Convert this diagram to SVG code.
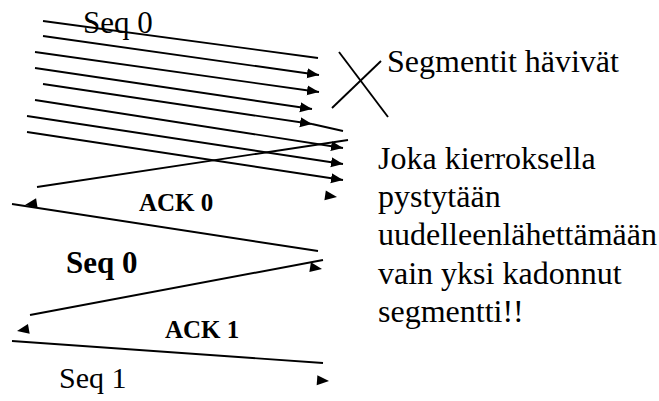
<svg xmlns="http://www.w3.org/2000/svg" width="659" height="401" viewBox="0 0 659 401">
  <style>
    .ln { stroke: #000; stroke-width: 1.9; fill: none; }
    .txt { font-family: "Liberation Serif", "Times New Roman", serif; fill: #000; }
    .big { font-size: 32px; }
    .b24 { font-size: 25px; font-weight: bold; }
    .b30 { font-size: 31px; font-weight: bold; }
    .ah { fill: #000; }
  </style>
  <defs>
    <marker id="arr" markerUnits="userSpaceOnUse" markerWidth="13" markerHeight="11" refX="12" refY="5" orient="auto">
      <path d="M0,0 L12,5 L0,10 Z" fill="#000"/>
    </marker>
    <path id="head" d="M0,0 L-12,-5 L-12,5 Z"/>
  </defs>
  <rect width="659" height="401" fill="#fff"/>

  <g id="connectors">
    <line class="ln" x1="43" y1="21" x2="318" y2="58"/>
    <line class="ln" x1="43" y1="36" x2="319" y2="75" marker-end="url(#arr)"/>
    <line class="ln" x1="35" y1="52" x2="319" y2="92" marker-end="url(#arr)"/>
    <line class="ln" x1="35" y1="68" x2="312" y2="109" marker-end="url(#arr)"/>
    <line class="ln" x1="43" y1="84" x2="312" y2="124" marker-end="url(#arr)"/>
    <line class="ln" x1="312" y1="124" x2="343" y2="131"/>
    <line class="ln" x1="35" y1="100" x2="343" y2="148" marker-end="url(#arr)"/>
    <line class="ln" x1="27" y1="116" x2="343" y2="164" marker-end="url(#arr)"/>
    <line class="ln" x1="27" y1="132" x2="343" y2="180" marker-end="url(#arr)"/>
    <use href="#head" class="ah" transform="translate(337,197) rotate(8)"/>

    <line class="ln" x1="348" y1="140" x2="37" y2="187"/>
    <use href="#head" class="ah" transform="translate(25,205) rotate(171)"/>

    <line class="ln" x1="12" y1="204" x2="318" y2="251"/>
    <use href="#head" class="ah" transform="translate(322,269) rotate(9)"/>

    <line class="ln" x1="323" y1="260" x2="30" y2="315"/>
    <use href="#head" class="ah" transform="translate(17,331) rotate(170)"/>

    <line class="ln" x1="12" y1="341" x2="323" y2="363"/>
    <use href="#head" class="ah" transform="translate(329,381) rotate(4)"/>
  </g>

  <g id="lost-mark">
    <line class="ln" x1="339" y1="52" x2="388" y2="117"/>
    <line class="ln" x1="332" y1="108" x2="381" y2="61"/>
  </g>

  <g id="labels">
    <text class="txt big" x="83" y="33" style="font-size:31px">Seq 0</text>
    <text class="txt big" x="387" y="72">Segmentit hävivät</text>
    <text class="txt b24" x="139" y="211">ACK 0</text>
    <text class="txt b30" x="66" y="273">Seq 0</text>
    <text class="txt b24" x="165" y="338">ACK 1</text>
    <text class="txt big" x="59" y="388" style="font-size:30px">Seq 1</text>
  </g>

  <g id="note">
    <text class="txt big" x="378" y="169">Joka kierroksella</text>
    <text class="txt big" x="378" y="207">pystytään</text>
    <text class="txt big" x="378" y="245">uudelleenlähettämään</text>
    <text class="txt big" x="378" y="284">vain yksi kadonnut</text>
    <text class="txt big" x="378" y="322">segmentti!!</text>
  </g>
</svg>
